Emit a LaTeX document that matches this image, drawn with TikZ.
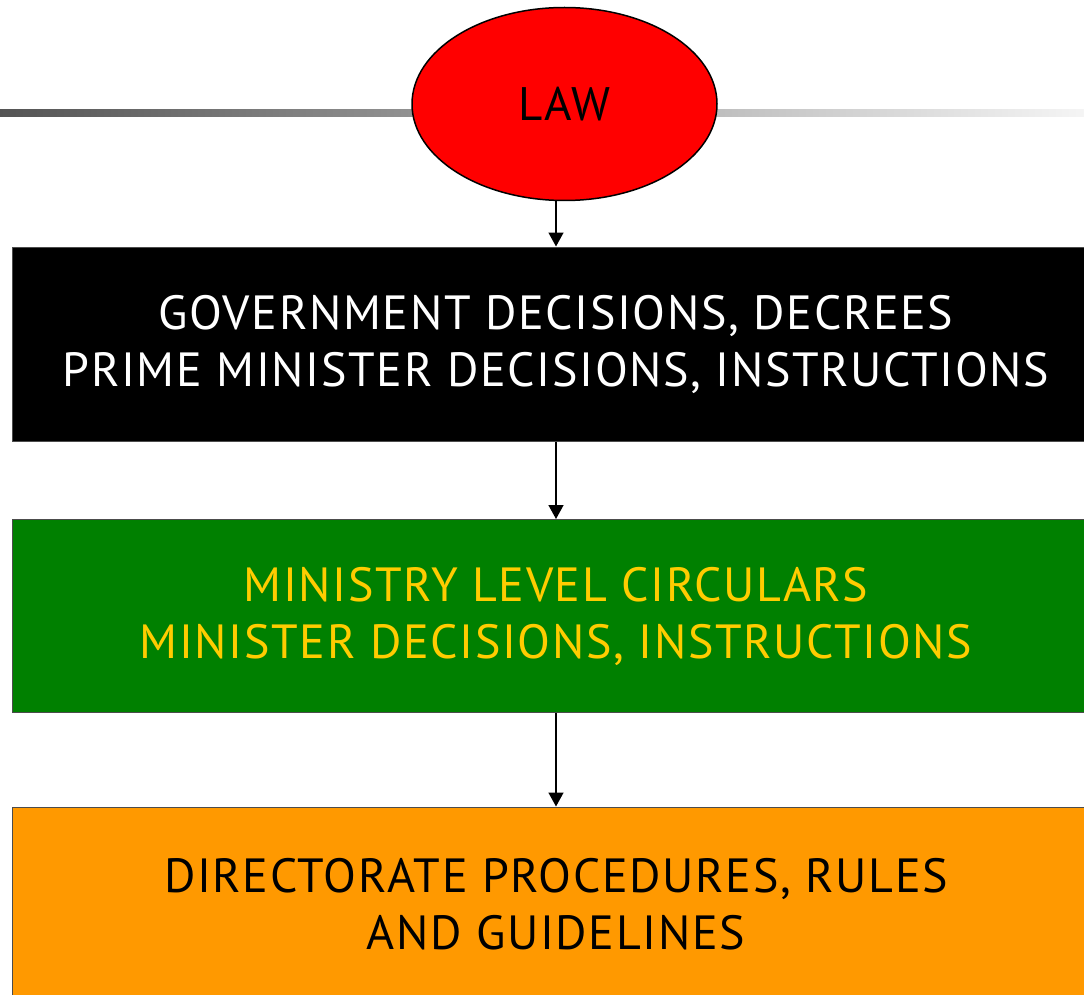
\documentclass[tikz,border=0pt]{standalone}
\usepackage{fontspec}
\setmainfont[LetterSpace=3.4]{PT Sans}
\usepackage{tikz}
\usetikzlibrary{positioning, arrows.meta, shapes.geometric}

\definecolor{lawred}{HTML}{FF0000}
\definecolor{govgreen}{HTML}{008000}
\definecolor{circyellow}{HTML}{FFCC00}
\definecolor{dirorange}{HTML}{FF9900}

\begin{document}
\begin{tikzpicture}[
    x=1pt, y=-1pt,
    arrow/.style={-{Triangle[length=14pt, width=15pt]}, line width=1.5pt},
    levelbox/.style={rectangle, draw=black!70, line width=1pt, minimum width=1088pt,
        minimum height=194pt, align=center, font=\fontsize{48}{57}\selectfont}
]
    % Frame
    \clip (0, 0) rectangle (1084, 995);

    % Title bar
    \shade[left color=black!67, right color=black!4] (0, 110) rectangle (1084, 117);

    % Top of the chain
    \node[ellipse, draw, line width=1.5pt, fill=lawred, minimum width=305pt, minimum height=193pt,
        font=\fontsize{47}{55}\selectfont] (law) at (564.5, 104) {LAW};

    % Levels
    \node[levelbox, fill=black, text=white] (gov) at (556, 344)
        {GOVERNMENT DECISIONS, DECREES\\PRIME MINISTER DECISIONS, INSTRUCTIONS};
    \node[levelbox, fill=govgreen, text=circyellow, minimum height=193pt] (ministry) at (556, 616)
        {MINISTRY LEVEL CIRCULARS\\MINISTER DECISIONS, INSTRUCTIONS};
    \node[levelbox, fill=dirorange, text=black] (directorate) at (556, 904)
        {DIRECTORATE PROCEDURES, RULES\\AND GUIDELINES};

    % Arrows
    \draw[arrow] (law.south -| gov.north) -- (gov.north);
    \draw[arrow] (gov) -- (ministry);
    \draw[arrow] (ministry) -- (directorate);

\end{tikzpicture}
\end{document}
